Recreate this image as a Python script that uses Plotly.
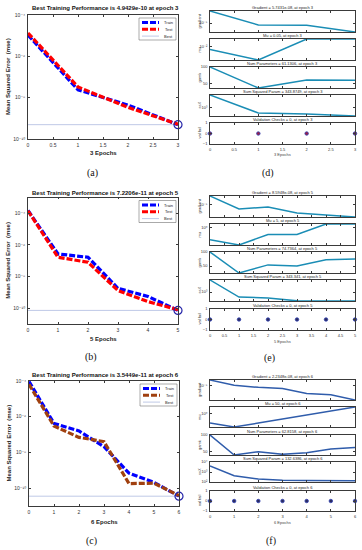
import math
import plotly.graph_objects as go

W, H = 362, 550

# ---------------- data : performance panels (a)-(c) ----------------
a_epochs = [0, 1, 2, 3]
a_train = [1.07e-5, 2.4e-8, 4.4e-9, 4.9429e-10]
a_test = [1.35e-5, 3.3e-8, 3.4e-9, 5.2e-10]
a_best = 4.9429e-10

b_epochs = [0, 1, 2, 3, 4, 5]
b_train = [1.5e-4, 2.7e-7, 1.66e-7, 1.8e-9, 5.5e-10, 7.2206e-11]
b_test = [1.45e-4, 1.66e-7, 8.0e-8, 1.3e-9, 2.6e-10, 8.0e-11]
b_best = 7.2206e-11

c_epochs = [0, 1, 2, 3, 4, 5, 6]
c_train = [9.5e-5, 4.2e-7, 1.6e-7, 2.1e-8, 6.9e-10, 2.1e-10, 3.5449e-11]
c_test = [6.5e-5, 3.0e-7, 7.0e-8, 4.0e-8, 1.8e-10, 1.9e-10, 3.8e-11]
c_best = 3.5449e-11

perf_tickvals = [1e-10, 1e-8, 1e-6, 1e-4]
perf_ticktext = ["10⁻¹⁰", "10⁻⁸", "10⁻⁶", "10⁻⁴"]
half_ticks_3 = [0, 0.5, 1, 1.5, 2, 2.5, 3]
half_ticks_5 = [0, 0.5, 1, 1.5, 2, 2.5, 3, 3.5, 4, 4.5, 5]
int_ticks_5 = [0, 1, 2, 3, 4, 5]
int_ticks_6 = [0, 1, 2, 3, 4, 5, 6]

perf_titles = ["Best Training Performance is 4.9429e-10 at epoch 3",
               "Best Training Performance is 7.2206e-11 at epoch 5",
               "Best Training Performance is 3.5449e-11 at epoch 6"]
epoch_labels = ["3 Epochs", "5 Epochs", "6 Epochs"]
legend_names = ["Train", "Test", "Best"]
panel_tags = ["(a)", "(b)", "(c)", "(d)", "(e)", "(f)"]

# ---------------- data : training state panels (d)-(f) ----------------
d_grad = [1.0e-2, 3.2e-6, 2.8e-6, 5.7431e-8]
d_mu = [0.005, 0.0005, 0.05, 0.05]
d_gamk = [100, 38, 61.5, 61.1306]
d_ssx = [5600, 515, 450, 343.8749]
d_val = [0, 0, 0, 0]

e_grad = [3.5e-4, 2.0e-6, 4.5e-6, 4.2e-7, 1.9e-7, 8.5948e-8]
e_mu = [0.005, 0.0005, 0.05, 0.05, 5, 5]
e_gamk = [100, 25, 54, 50, 72, 74.7364]
e_ssx = [4200, 550, 490, 350, 345, 343.341]
e_val = [0, 0, 0, 0, 0, 0]

f_grad = [8.9e-5, 1.0e-5, 4.2e-6, 2.7e-6, 3.2e-7, 2.0e-7, 2.2348e-8]
f_mu = [0.005, 0.0005, 0.005, 0.05, 0.5, 5, 50]
f_gamk = [100, 40, 50, 42, 47, 58, 62.8158]
f_ssx = [4000, 430, 200, 150, 140, 135, 132.6386]
f_val = [0, 0, 0, 0, 0, 0, 0]

state_ylabels = ["gradient", "mu", "gamk", "ssX", "val fail"]
d_titles = ["Gradient = 5.7431e-08, at epoch 3", "Mu = 0.05, at epoch 3",
            "Num Parameters = 61.1306, at epoch 3", "Sum Squared Param = 343.8749, at epoch 3",
            "Validation Checks = 0, at epoch 3"]
e_titles = ["Gradient = 8.5948e-08, at epoch 5", "Mu = 5, at epoch 5",
            "Num Parameters = 74.7364, at epoch 5", "Sum Squared Param = 343.341, at epoch 5",
            "Validation Checks = 0, at epoch 5"]
f_titles = ["Gradient = 2.2348e-08, at epoch 6", "Mu = 50, at epoch 6",
            "Num Parameters = 62.8158, at epoch 6", "Sum Squared Param = 132.6386, at epoch 6",
            "Validation Checks = 0, at epoch 6"]
grad_ticks = [1e-5]
grad_ticktext = ["10⁻⁵"]
d_mu_ticks, d_mu_ticktext = [1e-2], ["10⁻²"]
ef_mu_ticks, ef_mu_ticktext = [1], ["10⁰"]
gamk_ticks = [50, 100]
ssx_ticks, ssx_ticktext = [1e3], ["10³"]
f_ssx_ticks = [1e2, 1e3, 1e4]
f_ssx_ticktext = ["10²", "10³", "10⁴"]
f_ssx_range = [1e2, 1e4]
val_ticks = [-1, 0, 1]

# ---------------- helpers ----------------
SANS = "Liberation Sans, Arial, DejaVu Sans, sans-serif"
SERIF = "Liberation Serif, Times New Roman, serif"
AXC = "#3a3a3a"

def px(x):
    return x / W

def py(y):
    return 1 - y / H

fig = go.Figure()
layout = dict(width=W, height=H, margin=dict(l=0, r=0, t=0, b=0, autoexpand=False),
              paper_bgcolor="white", plot_bgcolor="white", showlegend=False,
              annotations=[], shapes=[])
counter = [0]

def new_axes(xpx, ypx, xrange, yrange, ytype, xticks, yticks, yticktext,
             show_x_labels, fs, xticktext=None):
    counter[0] += 1
    i = counter[0]
    s = "" if i == 1 else str(i)
    common = dict(showline=True, mirror="ticks", linecolor=AXC, linewidth=0.6,
                  ticks="inside", ticklen=2, tickwidth=0.5, tickcolor=AXC,
                  showgrid=False, zeroline=False, automargin=False,
                  tickfont=dict(family=SANS, size=fs, color="#333"))
    layout["xaxis" + s] = dict(domain=[px(xpx[0]), px(xpx[1])], range=xrange,
                               anchor="y" + s, tickvals=xticks,
                               ticktext=xticktext if xticktext else [("%g" % t) for t in xticks],
                               showticklabels=show_x_labels, ticklabelstandoff=1, **common)
    ya = dict(domain=[py(ypx[1]), py(ypx[0])], type=ytype, range=yrange,
              anchor="x" + s, tickvals=yticks, ticklabelstandoff=1, **common)
    if yticktext is not None:
        ya["ticktext"] = yticktext
    layout["yaxis" + s] = ya
    return "x" + s, "y" + s

def text(x, y, t, size, family=SANS, color="#222", bold=False, angle=0, xanchor="center"):
    if bold:
        t = "<b>" + t + "</b>"
    layout["annotations"].append(dict(x=px(x), y=py(y), xref="paper", yref="paper",
                                      text=t, showarrow=False, textangle=angle,
                                      xanchor=xanchor, yanchor="middle",
                                      font=dict(family=family, size=size, color=color)))

# ---------------- performance panels ----------------
perf = [
    (a_epochs, a_train, a_test, a_best, (28, 178), (15, 139), [-10, -4], half_ticks_3, "#ff0000", 8, 153, (92, 173)),
    (b_epochs, b_train, b_test, b_best, (28, 178), (197.5, 324), [-11, -3], int_ticks_5, "#ff0000", 193, 339, (91, 357)),
    (c_epochs, c_train, c_test, c_best, (29, 179), (381, 506), [-11, -4], int_ticks_6, "#a0400f", 375, 522, (91, 541)),
]
for k, (ep, tr, te, best, xp, yp, yr, xt, tcol, ty, ly, tagp) in enumerate(perf):
    n = ep[-1]
    xa, ya = new_axes(xp, yp, [0, n], yr, "log", xt, perf_tickvals, perf_ticktext, True, 5)
    fig.add_trace(go.Scatter(x=[0, n], y=[best, best], mode="lines", xaxis=xa, yaxis=ya,
                             line=dict(color="#aebbe0", width=0.8)))
    fig.add_trace(go.Scatter(x=ep, y=tr, mode="lines", xaxis=xa, yaxis=ya,
                             line=dict(color="#0000ff", width=3.2, dash="6px,2px")))
    fig.add_trace(go.Scatter(x=ep, y=te, mode="lines", xaxis=xa, yaxis=ya,
                             line=dict(color=tcol, width=3.2, dash="6px,2px")))
    fig.add_trace(go.Scatter(x=[n], y=[best], mode="markers", xaxis=xa, yaxis=ya, cliponaxis=False,
                             marker=dict(symbol="circle-open", size=8, color="#2323a8",
                                         line=dict(width=1.2, color="#2323a8"))))
    cx = (xp[0] + xp[1]) / 2
    text(cx + 2, ty, perf_titles[k], 6, bold=True, color="#111")
    text(cx, ly, epoch_labels[k], 6, bold=True, color="#222")
    text(8, (yp[0] + yp[1]) / 2, "Mean Squared Error  (mse)", 6, bold=True, angle=-90, color="#222")
    text(tagp[0], tagp[1], panel_tags[k], 10, family=SERIF, color="#111")
    # legend box
    bx0, bx1 = xp[1] - 39, xp[1] - 2
    by0 = yp[0] + 3
    layout["shapes"].append(dict(type="rect", xref="paper", yref="paper",
                                 x0=px(bx0), x1=px(bx1), y0=py(by0), y1=py(by0 + 22),
                                 line=dict(color="#555", width=0.5), fillcolor="white"))
    legend_styles = [("#0000ff", 3, "6px,2px"), (tcol, 3, "6px,2px"), ("#aebbe0", 0.8, "solid")]
    for j, (col, wdt, dsh) in enumerate(legend_styles):
        yy = by0 + 4.5 + j * 6.8
        layout["shapes"].append(dict(type="line", xref="paper", yref="paper",
                                     x0=px(bx0 + 3), x1=px(bx0 + 20), y0=py(yy), y1=py(yy),
                                     line=dict(color=col, width=wdt, dash=dsh)))
        text(bx1 - 1.5, yy, legend_names[j], 4, color="#222", xanchor="right")

# ---------------- training state panels ----------------
def log_range(v):
    return [math.log10(min(v)), math.log10(max(v))]

def lin_range(v):
    return [min(v), max(v)]

states = [
    (d_grad, d_mu, d_gamk, d_ssx, d_val, [11, 39, 67, 95, 123], 21, d_titles,
     d_mu_ticks, d_mu_ticktext, ssx_ticks, ssx_ticktext, None, half_ticks_3, 154, (268, 173), "#1a8db5", "#9a1f4a"),
    (e_grad, e_mu, e_gamk, e_ssx, e_val, [196, 224, 252, 280, 309], 21, e_titles,
     ef_mu_ticks, ef_mu_ticktext, ssx_ticks, ssx_ticktext, None, half_ticks_5, 341, (269, 358), "#1a8db5", "#2b2b60"),
    (f_grad, f_mu, f_gamk, f_ssx, f_val, [380, 407, 435, 462, 491], 20, f_titles,
     ef_mu_ticks, ef_mu_ticktext, f_ssx_ticks, f_ssx_ticktext, f_ssx_range, int_ticks_6, 522, (271, 541), "#2f5cab", "#2b2b60"),
]
XR = (210, 355)
for k, (g, mu, gam, ssx, val, tops, hgt, titles, mut, mutt, sst, sstt, ssr, xt, ly, tagp, lcol, vcol) in enumerate(states):
    ep = list(range(len(g)))
    n = ep[-1]
    ssx_r = [math.log10(ssr[0]), math.log10(ssr[1])] if ssr else log_range(ssx)
    rows = [
        (g, "log", log_range(g), grad_ticks, grad_ticktext),
        (mu, "log", log_range(mu), mut, mutt),
        (gam, "linear", lin_range(gam), gamk_ticks, None),
        (ssx, "log", ssx_r, sst, sstt),
    ]
    for r, (vals, typ, rng, tv, tt) in enumerate(rows):
        xa, ya = new_axes(XR, (tops[r], tops[r] + hgt), [0, n], rng, typ, xt, tv, tt, False, 4)
        fig.add_trace(go.Scatter(x=ep, y=vals, mode="lines", xaxis=xa, yaxis=ya,
                                 line=dict(color=lcol, width=1.5)))
    xa, ya = new_axes(XR, (tops[4], tops[4] + hgt), [0, n], [-1, 1], "linear", xt, val_ticks, None, True, 4)
    fig.add_trace(go.Scatter(x=ep, y=val, mode="markers", xaxis=xa, yaxis=ya, cliponaxis=False,
                             marker=dict(symbol="circle", size=3.5, color=vcol,
                                         line=dict(width=0.8, color="#3040b0"))))
    cx = (XR[0] + XR[1]) / 2
    for r in range(5):
        text(cx, tops[r] - 3.6, titles[r], 4, color="#222")
        text(199, tops[r] + hgt / 2, state_ylabels[r], 4, angle=-90, color="#333")
    text(cx, ly, epoch_labels[k], 4, color="#444")
    text(tagp[0], tagp[1], panel_tags[3 + k], 10, family=SERIF, color="#111")

fig.update_layout(**layout)
fig.write_html("out.html", config={"displayModeBar": False},
               post_script="document.body.style.margin='0';document.body.style.overflow='hidden';")
